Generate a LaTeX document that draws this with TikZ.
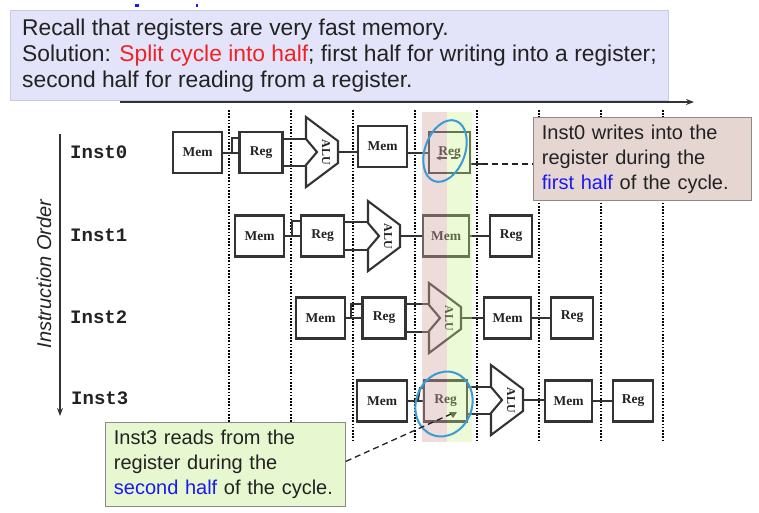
\documentclass[tikz,border=0pt]{standalone}
\usepackage{fontspec}
\setmainfont{Liberation Sans}
\newfontfamily\monob{Liberation Mono}
\newfontfamily\serifb{Liberation Serif}
\usetikzlibrary{arrows.meta,calc}
\definecolor{boxc}{HTML}{333333}
\definecolor{txt}{HTML}{222222}
\definecolor{lav}{HTML}{E3E3FA}
\definecolor{lavb}{HTML}{C9C9E2}
\definecolor{pinkband}{rgb}{0.82,0.66,0.63}
\definecolor{greenband}{rgb}{0.80,0.95,0.55}
\definecolor{calA}{HTML}{E6D6D2}
\definecolor{calB}{HTML}{E7F8D0}
\definecolor{calbd}{HTML}{8A8A8A}
\definecolor{ellc}{HTML}{3A9BD5}
\definecolor{tblue}{HTML}{1A1AF0}
\definecolor{tred}{HTML}{F02222}
\tikzset{
  unitbox/.style={draw=boxc, line width=2.1pt, fill=white, inner sep=0pt, minimum height=41pt,
    font=\serifb\bfseries\fontsize{13.5}{14}\selectfont, text=txt},
  membox/.style={unitbox, minimum width=49pt},
  regbox/.style={unitbox, minimum width=43pt},
  conn/.style={draw=boxc, line width=2pt},
  alushape/.style={draw=boxc, line width=2.1pt, fill=white, line join=miter},
  alutext/.style={font=\serifb\bfseries\fontsize{12}{12}\selectfont, text=txt, rotate=-90, inner sep=0pt},
  vdot/.style={draw=black, line width=1.8pt, dash pattern=on 1.6pt off 1.6pt},
  instlbl/.style={font=\monob\bfseries\fontsize{19}{20}\selectfont, text=txt, anchor=west, inner sep=0pt},
  callout/.style={draw=calbd, line width=0.8pt, anchor=north west, align=left, inner xsep=8.5pt,
    font=\fontsize{20}{25}\selectfont, text=txt},
  ell/.style={draw=ellc, line width=2pt},
  leader/.style={draw=txt, line width=1.3pt, dash pattern=on 6pt off 4pt},
}
\newcommand{\aluat}[2]{%
  \draw[alushape] (#1,#2) -- ++(32,24) -- ++(0,22) -- ++(-32,24) -- ++(0,-22) -- ++(11,-13) -- ++(-11,-13) -- cycle;
  \node[alutext] at ($(#1,#2)+(20,35)$) {ALU};}
\begin{document}
\begin{tikzpicture}[x=1pt,y=-1pt]
\useasboundingbox (0,0) rectangle (759,512);

% time arrow
\coordinate (ts) at (120,102);
\coordinate (te) at (694,102);
\draw[draw=boxc, line width=1.4pt, -{Stealth[length=8pt,width=6pt]}] (ts) -- (te);

% top box
\node[draw=lavb, line width=0.6pt, fill=lav, minimum width=658pt, minimum height=90pt, anchor=north west, inner sep=0pt] (top) at (10,10) {};
\node[anchor=west, align=left, inner sep=0pt, font=\fontsize{22.8}{26}\selectfont, text=txt] (toptext) at (22,56)
 {Recall that registers are very fast memory.\\
  Solution: \textcolor{tred}{Split cycle into half}; first half for writing into a register;\\
  second half for reading from a register.};
\fill[tblue] (135,4) rectangle (139,7);
\fill[tblue] (196,4) rectangle (198,7);

% vertical dotted cycle lines
\foreach \x in {229,291,353,415,477,539,601,663} \draw[vdot] (\x,110) -- (\x,442);

% instruction order arrow
\coordinate (os) at (60,134);
\coordinate (oe) at (60,416);
\draw[draw=boxc, line width=1.4pt, -{Stealth[length=8pt,width=6pt]}] (os) -- (oe);
\node[rotate=90, font=\itshape\fontsize{20}{20}\selectfont, text=txt] (iolbl) at (44,274) {Instruction Order};
\node[instlbl] (i0) at (70,152) {Inst0};
\node[instlbl] (i1) at (70,235) {Inst1};
\node[instlbl] (i2) at (70,317) {Inst2};
\node[instlbl] (i3) at (71,398) {Inst3};

% ---- Inst0
\node[membox] (m00) at (197.5,152.5) {Mem};
\node[regbox] (r00) at (261,152.5) {Reg};
\aluat{306}{117}
\coordinate (a0i1) at (306,139); \coordinate (a0i2) at (306,166); \coordinate (a0o) at (338,152);
\node[membox] (m01) at (382.5,146.5) {Mem};
\node[regbox, minimum width=41pt] (r01) at (449.5,152.5) {\raisebox{3pt}{Reg}};
\draw[conn] (m00.east) -- (r00.west);
\draw[conn] ($(r00.west)+(-6,0)$) |- ($(r00.north west)+(0,7)$);
\draw[conn] (r00.east |- a0i1) -- (a0i1);
\draw[conn] (r00.east |- a0i2) -- (a0i2);
\draw[conn] (a0o) -- (m01.west |- a0o);
\draw[conn] (m01.east |- r01) -- (r01.west);
\coordinate (wa) at (447,158); \coordinate (wb) at (436,158);
\draw[draw=boxc, line width=1.3pt, -{Stealth[length=5pt,width=4.5pt]}] (wa) -- (wb);
\coordinate (wc) at (451,158); \coordinate (wd) at (458,158);
\draw[draw=boxc, line width=1.3pt] (wc) -- (wd);
\coordinate (we) at (470,164); \coordinate (wf) at (482,164);
\draw[draw=boxc, line width=1.3pt] (we) -- (wf);

% ---- Inst1
\node[membox] (m10) at (259.5,236) {Mem};
\node[regbox] (r10) at (322.5,236) {Reg};
\aluat{368}{201}
\coordinate (a1i1) at (368,222); \coordinate (a1i2) at (368,250); \coordinate (a1o) at (400,236);
\node[membox, minimum width=46pt] (m11) at (446,236) {Mem};
\node[regbox, minimum width=42pt] (r11) at (511,236) {Reg};
\draw[conn] (m10.east) -- (r10.west);
\draw[conn] ($(r10.west)+(-8,0)$) |- ($(r10.north west)+(0,7)$);
\draw[conn] (r10.east |- a1i1) -- (a1i1);
\draw[conn] (r10.east |- a1i2) -- (a1i2);
\draw[conn] (a1o) -- (m11.west |- a1o);
\draw[conn] (m11.east) -- (r11.west);

% ---- Inst2
\node[membox] (m20) at (320.5,318) {Mem};
\node[regbox] (r20) at (384,318) {Reg};
\aluat{429}{283}
\coordinate (a2i1) at (429,304); \coordinate (a2i2) at (429,332); \coordinate (a2o) at (461,318);
\node[membox, minimum width=47pt] (m21) at (507.5,318) {\raisebox{-5pt}{Mem}};
\node[regbox, minimum width=42pt] (r21) at (572,318) {\raisebox{6pt}{Reg}};
\draw[conn] (m20.east) -- (r20.west);
\draw[conn] ($(r20.west)+(-10,0)$) |- ($(r20.north west)+(0,8)$);
\draw[conn] (r20.east |- a2i1) -- (a2i1);
\draw[conn] (r20.east |- a2i2) -- (a2i2);
\draw[conn] (a2o) -- (m21.west |- a2o);
\draw[conn] (m21.east) -- (r21.west);

% ---- Inst3
\node[membox, minimum width=50pt] (m30) at (382,401) {Mem};
\node[regbox] (r30) at (445.5,401) {Reg};
\aluat{491}{365}
\coordinate (a3i1) at (491,387); \coordinate (a3i2) at (491,414); \coordinate (a3o) at (523,400);
\node[membox, minimum width=47pt] (m31) at (568.5,401) {Mem};
\node[regbox, minimum width=40pt] (r31) at (633,401) {Reg};
\draw[conn] (m30.east) -- (r30.west);
\coordinate (n3a) at (418,400); \coordinate (n3b) at (420,388);
\draw[conn] (n3a) -- (n3b) -- (r30.west |- n3b);
\draw[conn] (r30.east |- a3i1) -- (a3i1);
\draw[conn] (r30.east |- a3i2) -- (a3i2);
\draw[conn] (a3o) -- (m31.west |- a3o);
\draw[conn] (m31.east) -- (r31.west);
\coordinate (tri) at (453,418);
\fill[boxc] ($(tri)+(-4,-6)$) -- ($(tri)+(4,-6)$) -- (tri) -- cycle;

% half-cycle bands
\fill[pinkband, fill opacity=0.4] (422,112) rectangle (447,442);
\fill[greenband, fill opacity=0.35] (447,112) rectangle (472,442);

% ellipses
\draw[ell, rotate around={-20:(445,151)}] (445,151) ellipse [x radius=20, y radius=32];
\draw[ell, rotate around={-20:(444,404)}] (444,404) ellipse [x radius=28, y radius=33];

% callouts
\node[callout, fill=calA, minimum width=218pt, minimum height=83pt, text width=201pt] (c1) at (533,117)
 {Inst0 writes into the\\register during the\\\textcolor{tblue}{first half} of the cycle.};
\node[callout, fill=calB, minimum width=240pt, minimum height=84pt, text width=223pt] (c2) at (105,422)
 {Inst3 reads from the\\register during the\\\textcolor{tblue}{second half} of the cycle.};
\draw[leader] (wf) -- (c1.west |- wf);
\draw[leader] ($(c2.east)+(0,-3)$) -- ($(tri)+(-2,-4)$);
\end{tikzpicture}
\end{document}
